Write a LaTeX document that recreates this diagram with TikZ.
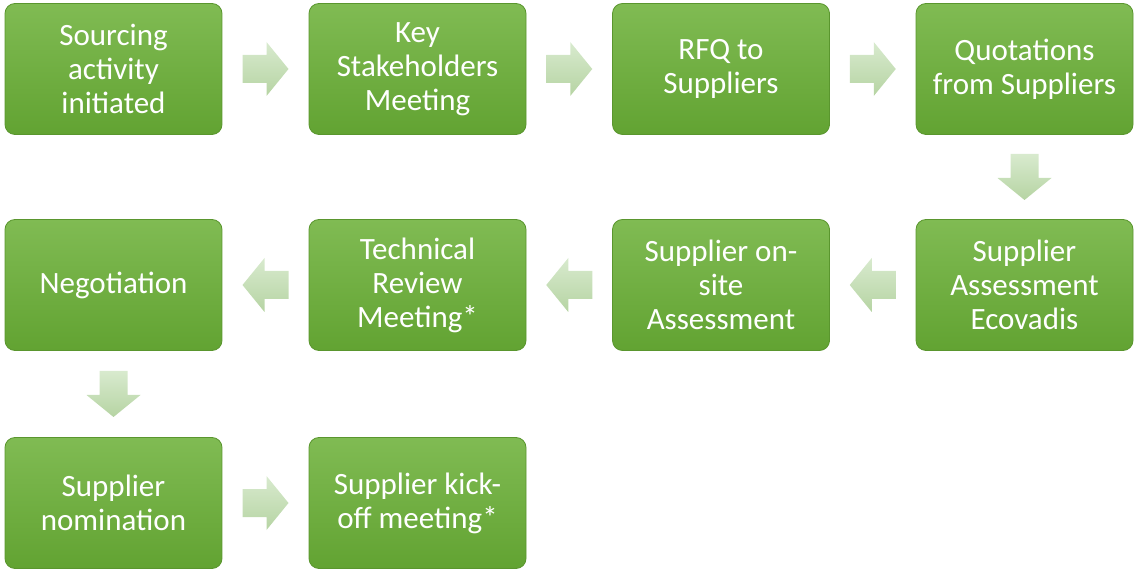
\documentclass[tikz,border=0pt]{standalone}
\usepackage{fontspec}
\setmainfont{Carlito}
\usetikzlibrary{calc}
\definecolor{boxtop}{HTML}{80BB53}
\definecolor{boxbot}{HTML}{62A332}
\definecolor{boxedge}{HTML}{5A962E}
\definecolor{arrtop}{HTML}{D8EACE}
\definecolor{arrbot}{HTML}{B6D4A3}
\tikzset{
  stepbox/.style={rectangle, rounded corners=10pt, minimum width=217pt, minimum height=131pt,
    top color=boxtop, bottom color=boxbot, draw=boxedge, line width=0.8pt,
    text=white, align=center, font=\fontsize{31}{34}\selectfont, inner sep=2pt},
  blockarrow/.style={top color=arrtop, bottom color=arrbot, draw=none}
}
% block arrow centred at a point, rotated by #2 degrees (y axis points down)
\newcommand{\myblockarrow}[2]{%
  \begin{scope}[shift={(#1)}, rotate=#2]
    \path[blockarrow] (-23,-14) -- (1,-14) -- (1,-27) -- (23,0) -- (1,27) -- (1,14) -- (-23,14) -- cycle;
  \end{scope}}
\begin{document}
\begin{tikzpicture}[x=1pt,y=-1pt]
\useasboundingbox (0,0) rectangle (1136,569);
\node[stepbox] (s1) at (113.5,69) {Sourcing\\activity\\initiated};
\node[stepbox] (s2) at (417.5,69) {Key\\Stakeholders\\Meeting};
\node[stepbox] (s3) at (721,69) {RFQ to\\Suppliers};
\node[stepbox] (s4) at (1024.5,69) {Quotations\\from Suppliers};
\node[stepbox] (s5) at (1024.5,285) {Supplier\\Assessment\\Ecovadis};
\node[stepbox] (s6) at (721,285) {Supplier on-\\site\\Assessment};
\node[stepbox] (s7) at (417.5,285) {Technical\\Review\\Meeting*};
\node[stepbox] (s8) at (113.5,285) {Negotiation};
\node[stepbox] (s9) at (113.5,503) {Supplier\\nomination};
\node[stepbox] (s10) at (417.5,503) {Supplier kick-\\off meeting*};
% block arrows between steps
\coordinate (a1) at ($(s1.east)!0.5!(s2.west)$);
\coordinate (a2) at ($(s2.east)!0.5!(s3.west)$);
\coordinate (a3) at ($(s3.east)!0.5!(s4.west)$);
\coordinate (a4) at ($(s4.south)!0.5!(s5.north)$);
\coordinate (a5) at ($(s5.west)!0.5!(s6.east)$);
\coordinate (a6) at ($(s6.west)!0.5!(s7.east)$);
\coordinate (a7) at ($(s7.west)!0.5!(s8.east)$);
\coordinate (a8) at ($(s8.south)!0.5!(s9.north)$);
\coordinate (a9) at ($(s9.east)!0.5!(s10.west)$);
\myblockarrow{a1}{0}
\myblockarrow{a2}{0}
\myblockarrow{a3}{0}
\myblockarrow{a4}{-90}
\myblockarrow{a5}{180}
\myblockarrow{a6}{180}
\myblockarrow{a7}{180}
\myblockarrow{a8}{-90}
\myblockarrow{a9}{0}
\end{tikzpicture}
\end{document}
